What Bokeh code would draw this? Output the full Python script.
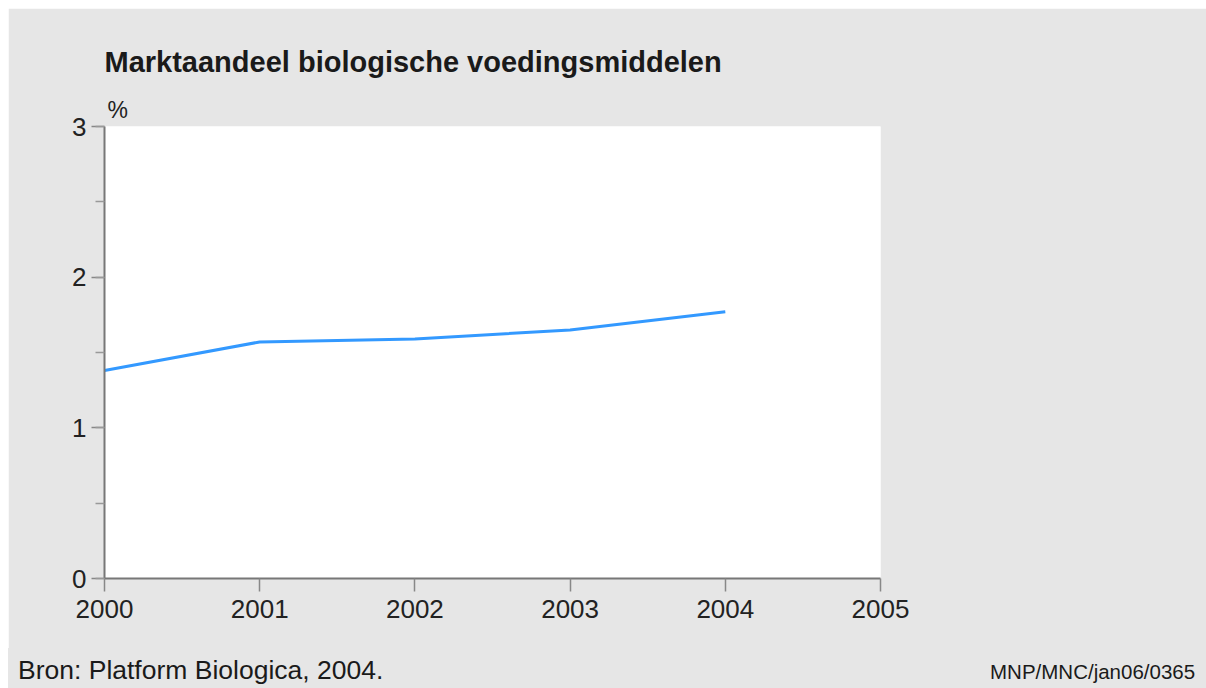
from bokeh.plotting import figure
from bokeh.models import Range1d, SingleIntervalTicker, Title, Div
from bokeh.layouts import column
from bokeh.embed import file_html
from bokeh.resources import INLINE

years = [2000, 2001, 2002, 2003, 2004]
share = [1.38, 1.57, 1.59, 1.65, 1.77]
x_ticks = [2000, 2001, 2002, 2003, 2004, 2005]
title_text = "Marktaandeel biologische voedingsmiddelen"
unit_text = "%"
source_text = "Bron: Platform Biologica, 2004."
code_text = "MNP/MNC/jan06/0365"

FONT = "Liberation Sans"
BG = "#e6e6e6"

p = figure(width=1198, height=640, output_backend="svg", toolbar_location=None,
           x_range=Range1d(2000, 2005), y_range=Range1d(0, 3),
           min_border_left=96, min_border_right=326, min_border_top=118, min_border_bottom=70)
p.margin = (8, 0, 0, 8)
p.background_fill_color = "white"
p.border_fill_color = BG
p.outline_line_color = None
p.xgrid.visible = False
p.ygrid.visible = False

p.line(years, share, line_color="#3399ff", line_width=3)

p.xaxis.ticker = x_ticks
p.yaxis.ticker = SingleIntervalTicker(interval=1, num_minor_ticks=2)
for ax in (p.xaxis[0], p.yaxis[0]):
    ax.axis_line_color = "#777777"
    ax.axis_line_width = 2
    ax.major_tick_line_color = "#888888"
    ax.major_tick_line_width = 1.5
    ax.major_tick_in = 0
    ax.major_tick_out = 13
    ax.major_label_text_font = FONT
    ax.major_label_text_font_size = "26px"
    ax.major_label_text_color = "#222222"
p.xaxis.minor_tick_line_color = None
p.xaxis.major_label_standoff = 8
p.yaxis.minor_tick_line_color = "#999999"
p.yaxis.minor_tick_line_width = 1.5
p.yaxis.minor_tick_in = 0
p.yaxis.minor_tick_out = 9
p.yaxis.major_label_standoff = 5

unit_title = Title(text=unit_text, align="left", offset=3, standoff=8,
                   text_font=FONT, text_font_size="23px", text_font_style="normal",
                   text_color="#222222")
main_title = Title(text=title_text, align="left", offset=0, standoff=26,
                   text_font=FONT, text_font_size="29px", text_font_style="bold",
                   text_color="#1a1a1a")
p.add_layout(unit_title, "above")
p.add_layout(main_title, "above")

footer_html = (
    '<div style="white-space:nowrap;font-family:\'Liberation Sans\';color:#1a1a1a;'
    'padding-top:4px;">'
    '<span style="display:inline-block;width:982px;padding-left:10px;box-sizing:border-box;'
    'font-size:26.5px;">' + source_text + '</span>'
    '<span style="font-size:20.5px;">' + code_text + '</span></div>'
)
footer = Div(text=footer_html, width=1198, height=40, margin=(0, 0, 0, 8),
             styles={"background-color": BG, "overflow": "hidden"})

layout = column(p, footer, spacing=0)
open("out.html", "w").write(file_html(layout, INLINE))
